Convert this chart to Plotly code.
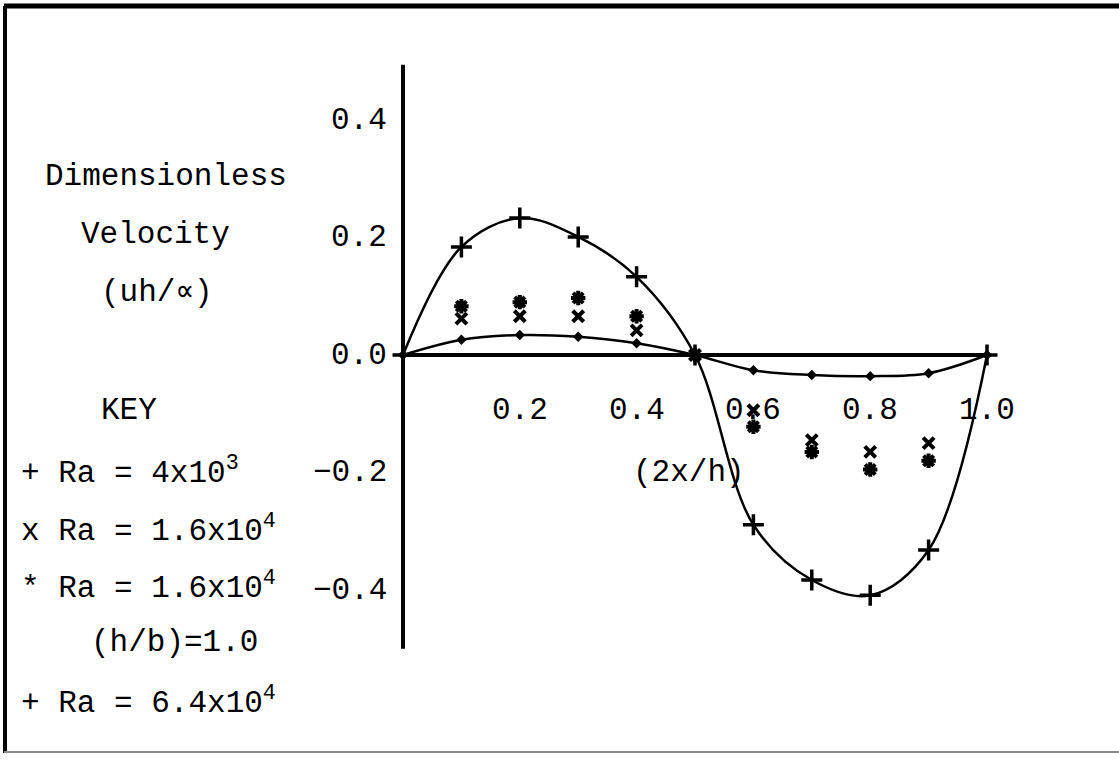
import plotly.graph_objects as go

# Position across the channel (2x/h)
x_pos = [0.0, 0.1, 0.2, 0.3, 0.4, 0.5, 0.6, 0.7, 0.8, 0.9, 1.0]
# Ra = 4x10^3 (line with small dots)
u_ra_4e3 = [0.0, 0.026, 0.034, 0.031, 0.020, 0.0, -0.026, -0.034, -0.036, -0.031, 0.0]
# Ra = 6.4x10^4 (line with + marks)
u_ra_64e3 = [0.0, 0.184, 0.233, 0.201, 0.133, 0.0, -0.289, -0.383, -0.409, -0.332, 0.0]

# Ra = 1.6x10^4 points (no line)
x_pts = [0.1, 0.2, 0.3, 0.4, 0.5, 0.6, 0.7, 0.8, 0.9]
u_ra_16e3_x = [0.062, 0.066, 0.066, 0.042, 0.0, -0.094, -0.145, -0.165, -0.150]
u_ra_16e3_star = [0.083, 0.090, 0.097, 0.066, 0.0, -0.122, -0.165, -0.195, -0.180]

x_ticks = [0.2, 0.4, 0.6, 0.8, 1.0]
x_tick_text = ["0.2", "0.4", "0.6", "0.8", "1.0"]
y_ticks = [0.4, 0.2, 0.0, -0.2, -0.4]
y_tick_text = ["0.4", "0.2", "0.0", "\u22120.2", "\u22120.4"]

W, H = 1119, 764
FONT = "Liberation Mono, Courier New, monospace"
FS = 31


def px(xp):
    return xp / W


def py(yp):
    return 1 - yp / H


fig = go.Figure()

fig.add_trace(go.Scatter(
    x=x_pos, y=u_ra_64e3, mode="lines+markers",
    line=dict(color="black", width=2.5, shape="spline", smoothing=1.0),
    marker=dict(symbol="cross-thin-open", size=15, color="black",
                line=dict(color="black", width=3.5)),
))
fig.add_trace(go.Scatter(
    x=x_pos, y=u_ra_4e3, mode="lines+markers",
    line=dict(color="black", width=2.5, shape="spline", smoothing=1.0),
    marker=dict(symbol="diamond", size=8, color="black"),
))
fig.add_trace(go.Scatter(
    x=x_pts, y=u_ra_16e3_x, mode="markers",
    marker=dict(symbol="x-thin-open", size=11, color="black",
                line=dict(color="black", width=4)),
))
fig.add_trace(go.Scatter(
    x=x_pts, y=u_ra_16e3_star, mode="markers",
    marker=dict(symbol="asterisk-open", size=12, color="black",
                line=dict(color="black", width=4)),
))

shapes = [
    # axes
    dict(type="line", xref="x", yref="y", x0=0, x1=0, y0=-0.5, y1=0.494,
         line=dict(color="black", width=4)),
    dict(type="line", xref="x", yref="y", x0=0, x1=1.0, y0=0, y1=0,
         line=dict(color="black", width=4)),
    # page frame
    dict(type="line", xref="paper", yref="paper", x0=px(4), x1=1, y0=py(6), y1=py(6),
         line=dict(color="black", width=5)),
    dict(type="line", xref="paper", yref="paper", x0=px(5), x1=px(5), y0=py(6), y1=py(753),
         line=dict(color="black", width=4)),
    dict(type="line", xref="paper", yref="paper", x0=px(4), x1=1, y0=py(752), y1=py(752),
         line=dict(color="#8a8a8a", width=2)),
]

annotations = []
for v, t in zip(x_ticks, x_tick_text):
    annotations.append(dict(x=v, y=-0.095, xref="x", yref="y", text=t, showarrow=False,
                            xanchor="center", yanchor="middle",
                            font=dict(family=FONT, size=FS, color="black")))
for v, t in zip(y_ticks, y_tick_text):
    annotations.append(dict(x=-0.024, y=v, xref="x", yref="y", text=t, showarrow=False,
                            xanchor="right", yanchor="middle",
                            font=dict(family=FONT, size=FS, color="black")))
annotations.append(dict(x=0.49, y=-0.2, xref="x", yref="y", text="(2x/h)", showarrow=False,
                        xanchor="center", yanchor="middle",
                        font=dict(family=FONT, size=FS, color="black")))

left_text = [
    ("Dimensionless", 166, 176, "center"),
    ("Velocity", 155, 234, "center"),
    ("(uh/\u221d)", 157, 293, "center"),
    ("KEY", 129, 410, "center"),
    ("+ Ra = 4x10<sup>3</sup>", 19, 471, "left"),
    ("x Ra = 1.6x10<sup>4</sup>", 19, 529, "left"),
    ("* Ra = 1.6x10<sup>4</sup>", 19, 586, "left"),
    ("(h/b)=1.0", 174, 642, "center"),
    ("+ Ra = 6.4x10<sup>4</sup>", 19, 701, "left"),
]
for t, xp, yp, anchor in left_text:
    annotations.append(dict(x=px(xp), y=py(yp), xref="paper", yref="paper", text=t,
                            showarrow=False, xanchor=anchor, yanchor="middle",
                            font=dict(family=FONT, size=FS, color="black")))

# data ranges chosen so the full canvas is the plotting area
x_lo = -403 / 584
x_hi = x_lo + W / 584
y_hi = 355 / 587.5
y_lo = y_hi - H / 587.5

fig.update_layout(
    width=W, height=H,
    margin=dict(l=0, r=0, t=0, b=0),
    paper_bgcolor="white", plot_bgcolor="white",
    showlegend=False,
    xaxis=dict(range=[x_lo, x_hi], visible=False, fixedrange=True),
    yaxis=dict(range=[y_lo, y_hi], visible=False, fixedrange=True),
    shapes=shapes,
    annotations=annotations,
)

fig.write_html("out.html")
